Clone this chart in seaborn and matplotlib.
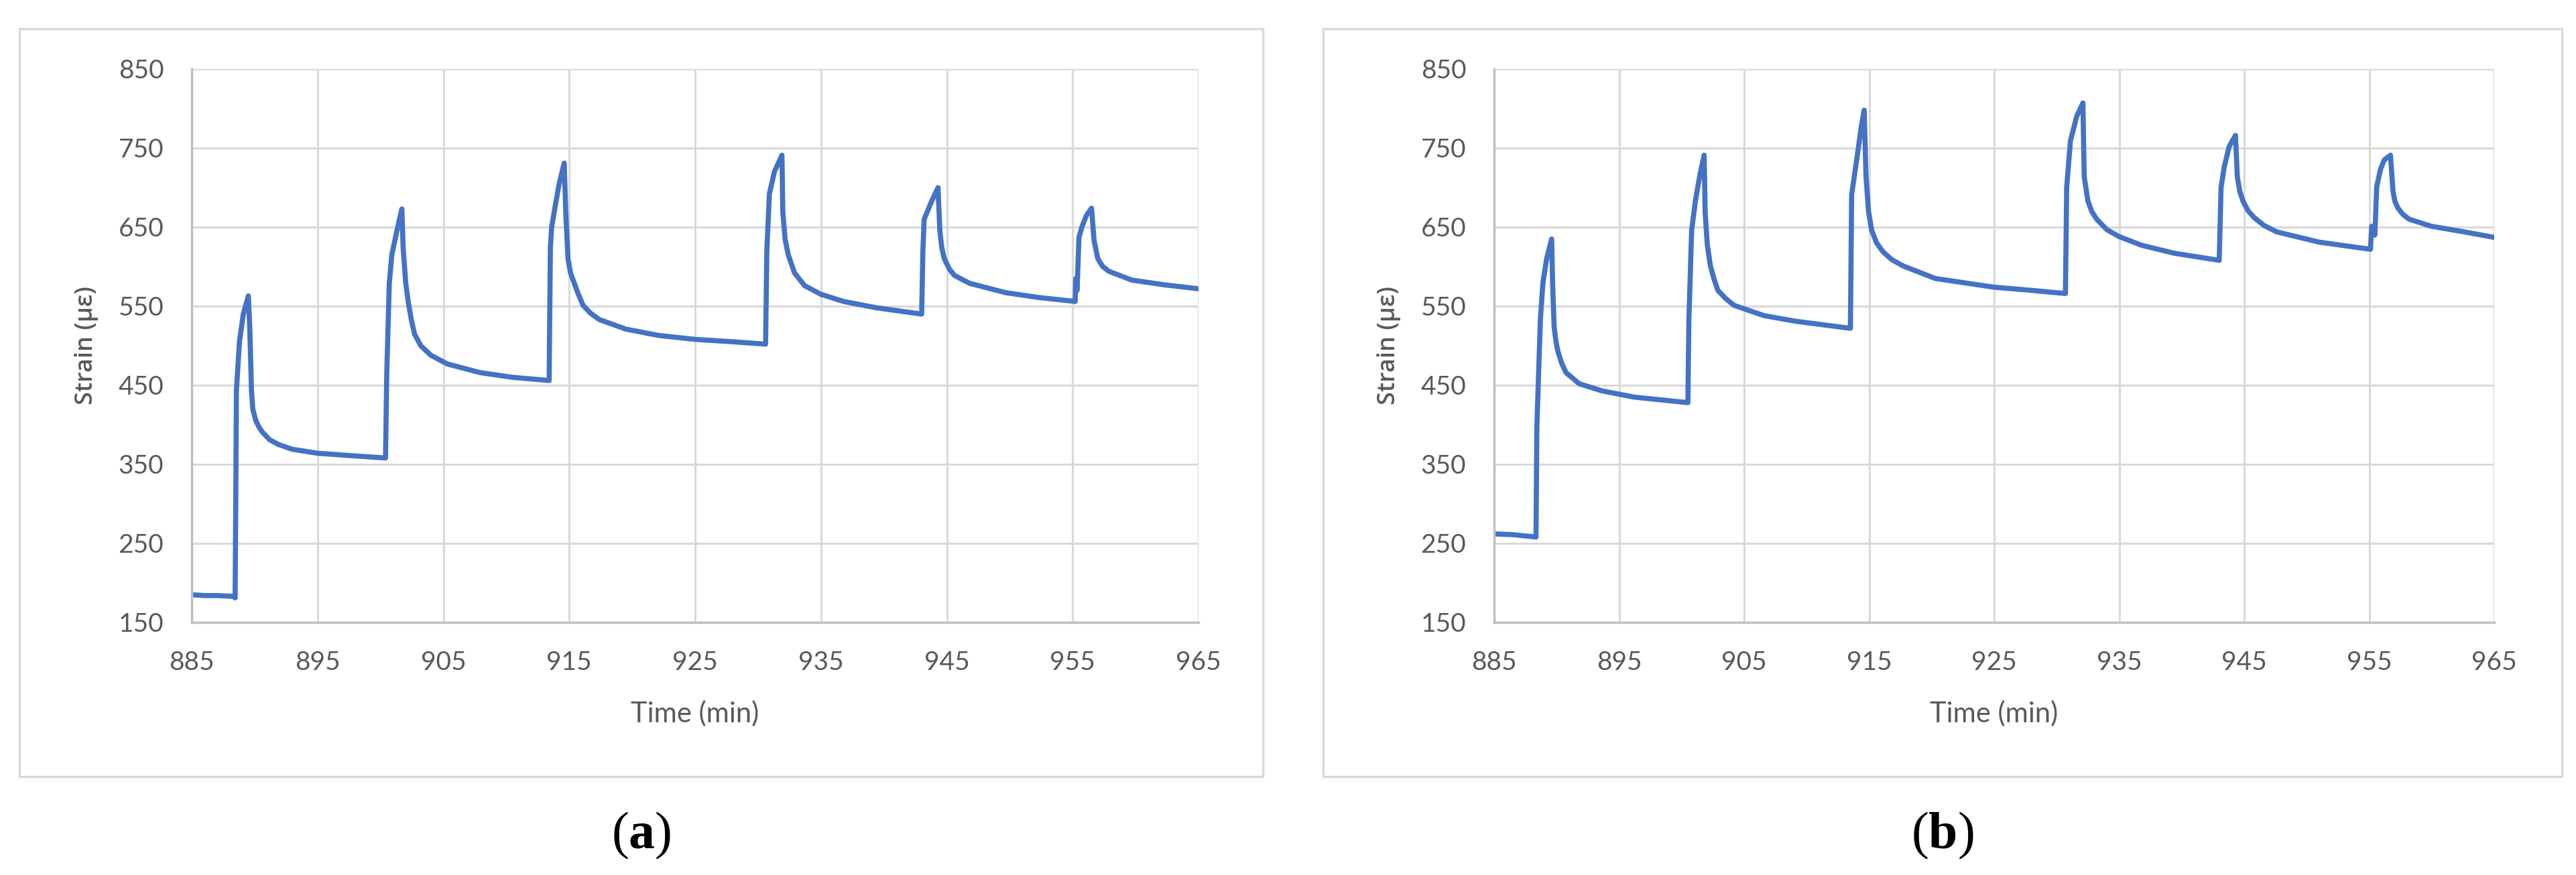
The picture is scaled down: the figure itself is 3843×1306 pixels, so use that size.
import matplotlib
matplotlib.use('Agg')
import matplotlib.pyplot as plt
from matplotlib.patches import Rectangle
import seaborn as sns
import pandas as pd

# points (temps en min, déformation en µε)
time_a = [885.0, 886.0, 887.0, 888.3, 888.45, 888.5, 888.55, 888.8, 889.1, 889.5,
          889.62, 889.75, 889.85, 890.1, 890.35, 890.6, 891.2, 891.9, 893.0, 895.0,
          897.6, 900.4, 900.5, 900.7, 900.9, 901.3, 901.7, 901.8, 902.0, 902.2,
          902.45, 902.7, 903.2, 904.0, 905.3, 907.9, 910.5, 913.4, 913.5, 913.6,
          913.9, 914.2, 914.6, 914.72, 914.9, 915.1, 915.4, 915.7, 916.1, 916.7,
          917.4, 919.5, 922.1, 925.0, 928.0, 930.6, 930.7, 930.9, 931.3, 931.9,
          931.97, 932.15, 932.4, 932.9, 933.7, 935.0, 936.8, 939.4, 943.0, 943.1,
          943.2, 943.8, 944.3, 944.45, 944.6, 944.8, 945.2, 945.6, 946.8, 949.7,
          952.3, 955.2, 955.25, 955.35, 955.5, 955.75, 956.1, 956.5, 956.7, 957.0,
          957.4, 957.9, 959.7, 962.3, 965.0]
strain_a = [185, 184, 184, 183, 181, 300, 443, 506, 540, 563,
            520, 443, 420, 405, 397, 391, 381, 375, 369, 364,
            361, 358, 466, 579, 615, 645, 673, 624, 580, 556,
            533, 515, 500, 488, 477, 466, 460, 456, 624, 650,
            678, 705, 731, 669, 610, 592, 579, 566, 551, 541,
            533, 521, 513, 508, 505, 502, 620, 692, 720, 741,
            669, 635, 615, 592, 576, 565, 556, 548, 540, 620,
            660, 683, 700, 645, 624, 610, 597, 589, 579, 567,
            561, 556, 585, 570, 637, 651, 665, 674, 633, 610,
            600, 594, 583, 577, 572]

time_b = [885.0, 886.5, 888.35, 888.42, 888.7, 888.9, 889.2, 889.6, 889.68, 889.8,
          889.95, 890.1, 890.4, 890.75, 891.8, 893.6, 896.2, 900.5, 900.58, 900.8,
          901.1, 901.45, 901.8, 901.88, 902.05, 902.3, 902.6, 902.9, 903.5, 904.2,
          906.6, 909.1, 913.5, 913.6, 914.1, 914.35, 914.6, 914.75, 914.95, 915.2,
          915.6, 916.1, 916.8, 917.7, 920.3, 925.0, 928.0, 930.7, 930.8, 931.1,
          931.6, 932.1, 932.2, 932.5, 932.8, 933.2, 934.0, 935.0, 936.8, 939.4,
          943.0, 943.15, 943.4, 943.8, 944.3, 944.45, 944.65, 944.9, 945.3, 945.8,
          946.6, 947.6, 951.0, 955.1, 955.2, 955.45, 955.6, 955.9, 956.2, 956.7,
          956.9, 957.05, 957.3, 957.7, 958.2, 960.0, 962.6, 965.0]
strain_b = [262, 261, 258, 398, 533, 579, 610, 635, 579, 524,
            505, 493, 478, 466, 452, 443, 435, 428, 533, 646,
            683, 715, 741, 669, 628, 601, 584, 570, 560, 551,
            538, 531, 522, 691, 746, 775, 798, 714, 670, 646,
            630, 619, 609, 601, 585, 574, 570, 566, 700, 759,
            790, 807, 714, 683, 670, 660, 647, 638, 627, 617,
            608, 700, 726, 752, 766, 714, 695, 683, 671, 662,
            652, 644, 631, 622, 651, 640, 701, 723, 735, 741,
            696, 683, 674, 666, 660, 651, 644, 637]

x_ticks = [885, 895, 905, 915, 925, 935, 945, 955, 965]
y_ticks = [150, 250, 350, 450, 550, 650, 750, 850]
panel_labels = ['a', 'b']

sns.set_theme(style='whitegrid')
plt.rcParams['font.family'] = ['Lato', 'DejaVu Sans']
plt.rcParams['mathtext.fontset'] = 'custom'
plt.rcParams['mathtext.rm'] = 'Liberation Serif'
plt.rcParams['mathtext.bf'] = 'Liberation Serif:bold'

fig = plt.figure(figsize=(38.43, 13.06), dpi=100)
W, H = 3843, 1306

line_color = '#4472C4'
grid_color = '#d9d9d9'
text_color = '#595959'

# positions en pixels (gauche, droite) des zones de tracé et des cadres
plots = [(286, 1788), (2229, 3721)]
boxes = [(29, 1884), (1974, 3822)]
top, bottom = 103, 929

datasets = [(time_a, strain_a), (time_b, strain_b)]

for (x0, x1), (bx0, bx1), (t, s), lab in zip(plots, boxes, datasets, panel_labels):
    # cadre du graphique
    fig.add_artist(Rectangle((bx0 / W, 1 - 1159 / H), (bx1 - bx0) / W, (1159 - 43) / H,
                             transform=fig.transFigure, fill=False,
                             edgecolor=grid_color, linewidth=2.5))

    ax = fig.add_axes([x0 / W, 1 - bottom / H, (x1 - x0) / W, (bottom - top) / H])
    df = pd.DataFrame({'time': t, 'strain': s})
    sns.lineplot(data=df, x='time', y='strain', ax=ax, color=line_color,
                 linewidth=5.5, estimator=None, sort=False)

    ax.set_xlim(885, 965)
    ax.set_ylim(150, 850)
    ax.set_xticks(x_ticks)
    ax.set_yticks(y_ticks)
    ax.grid(True, color=grid_color, linewidth=2.2)
    ax.set_axisbelow(True)
    for side in ['top', 'right']:
        ax.spines[side].set_visible(False)
    for side in ['left', 'bottom']:
        ax.spines[side].set_color('#bfbfbf')
        ax.spines[side].set_linewidth(2.5)
    ax.tick_params(axis='both', length=0, labelsize=28, labelcolor=text_color)
    ax.tick_params(axis='y', pad=30)
    ax.tick_params(axis='x', pad=30)

    ax.set_xlabel('Time (min)', fontsize=30, color=text_color)
    ax.set_ylabel('Strain (με)', fontsize=26, color=text_color,
                  family=['Open Sans', 'DejaVu Sans'], fontweight='semibold')
    ax.xaxis.set_label_coords(0.5, -(1065 - bottom) / (bottom - top))
    ax.xaxis.label.set_va('center')
    ax.yaxis.set_label_coords(-157 / (x1 - x0), 0.5)
    ax.yaxis.label.set_va('center')

    # étiquette (a) / (b) sous le cadre
    fig.text((bx0 + bx1) / 2 / W, 1 - 1247 / H, '($\\mathbf{' + lab + '}$)',
             ha='center', va='center', fontsize=56, color='black',
             family=['Liberation Serif', 'DejaVu Serif'])

fig.savefig('out.png', dpi=100, facecolor='white')
